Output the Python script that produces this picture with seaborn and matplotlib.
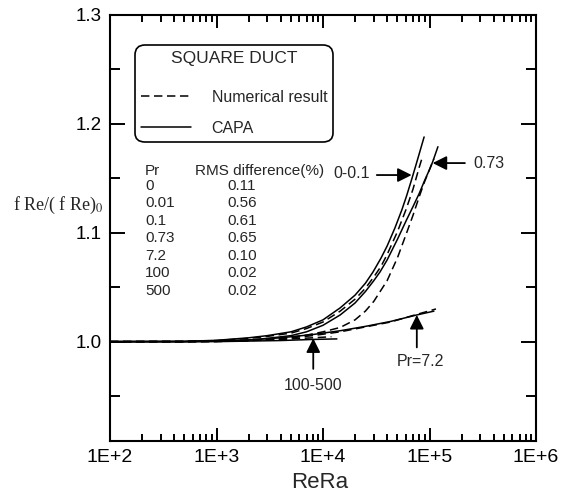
import numpy as np
import pandas as pd
import matplotlib
matplotlib.use('Agg')
import matplotlib.pyplot as plt
from matplotlib.lines import Line2D
from matplotlib.ticker import FixedLocator, FixedFormatter, NullFormatter
import seaborn as sns

# ---------------- data ----------------
# CAPA (solid) and numerical (dashed) curves, x = ReRa, y = fRe/(fRe)0
capa_pr01_x = [100, 500, 1000, 2000, 3000, 5000, 7000, 1e4, 1.45e4, 2e4, 2.5e4, 2.95e4, 3.5e4, 4e4, 4.74e4, 5.5e4, 6.1e4, 6.8e4, 7.5e4, 8.2e4, 8.9e4]
capa_pr01_y = [1.000, 1.0003, 1.0012, 1.0035, 1.0055, 1.009, 1.0135, 1.020, 1.031, 1.0427, 1.0536, 1.064, 1.0766, 1.0878, 1.1045, 1.121, 1.134, 1.149, 1.163, 1.176, 1.188]

num_pr01_x = [100, 500, 1000, 2000, 3000, 5000, 7000, 1e4, 1.45e4, 2e4, 2.5e4, 3e4, 3.5e4, 4e4, 5e4, 6e4, 7e4, 8e4, 8.6e4]
num_pr01_y = [1.000, 1.0002, 1.001, 1.003, 1.0048, 1.0078, 1.012, 1.018, 1.028, 1.039, 1.049, 1.0594, 1.069, 1.080, 1.101, 1.121, 1.140, 1.160, 1.170]

capa_pr073_x = [100, 500, 1000, 2000, 3000, 5000, 7000, 1e4, 1.45e4, 2e4, 2.5e4, 3e4, 3.43e4, 4e4, 5e4, 6.1e4, 7e4, 8e4, 9e4, 1e5, 1.07e5, 1.2e5]
capa_pr073_y = [1.000, 1.000, 1.0005, 1.0015, 1.003, 1.0055, 1.009, 1.015, 1.0245, 1.0355, 1.046, 1.056, 1.064, 1.075, 1.094, 1.112, 1.124, 1.136, 1.148, 1.158, 1.165, 1.179]

num_pr073_x = [100, 500, 1000, 2000, 3000, 5000, 7000, 1e4, 1.45e4, 2e4, 2.5e4, 3e4, 4e4, 5e4, 6e4, 7e4, 8e4, 9e4, 1e5, 1.1e5]
num_pr073_y = [1.000, 1.000, 1.0003, 1.001, 1.002, 1.004, 1.006, 1.009, 1.013, 1.020, 1.028, 1.037, 1.056, 1.077, 1.098, 1.116, 1.133, 1.147, 1.158, 1.168]

capa_pr72_x = [100, 500, 1000, 2000, 4000, 8000, 1.45e4, 2.5e4, 4.3e4, 7.6e4, 1.1e5]
capa_pr72_y = [1.000, 1.000, 1.0005, 1.0015, 1.0035, 1.0065, 1.010, 1.014, 1.0185, 1.0245, 1.028]

num_pr72_x = [100, 500, 1000, 2000, 4000, 8000, 1.45e4, 2.5e4, 4.3e4, 7.6e4, 1.15e5]
num_pr72_y = [1.000, 1.000, 1.0003, 1.001, 1.0025, 1.0055, 1.009, 1.0135, 1.018, 1.025, 1.030]

capa_pr100_x = [100, 1000, 2000, 4000, 8000, 1.35e4]
capa_pr100_y = [1.000, 1.000, 1.0005, 1.001, 1.002, 1.0025]

num_pr100_x = [100, 1000, 2000, 4000, 8000, 1.2e4]
num_pr100_y = [1.000, 1.000, 1.001, 1.002, 1.0035, 1.0045]

table_pr = ['0', '0.01', '0.1', '0.73', '7.2', '100', '500']
table_rms = ['0.11', '0.56', '0.61', '0.65', '0.10', '0.02', '0.02']

x_ticks = [1e2, 1e3, 1e4, 1e5, 1e6]
x_tick_labels = ['1E+2', '1E+3', '1E+4', '1E+5', '1E+6']
y_ticks = [1.0, 1.1, 1.2, 1.3]
y_tick_labels = ['1.0', '1.1', '1.2', '1.3']
y_minor = [0.95, 1.05, 1.15, 1.25]

# annotation arrows: (label, tail, tip)
arrow_labels = ['0-0.1', '0.73', '100-500', 'Pr=7.2']
arrow_tails = [(3.2e4, 1.153), (2.15e5, 1.164), (8.1e3, 0.975), (7.6e4, 0.9947)]
arrow_tips = [(6.8e4, 1.153), (1.07e5, 1.164), (8.1e3, 1.003), (7.6e4, 1.0245)]

# ---------------- style ----------------
sns.set_theme(style='ticks')
plt.rcParams['font.family'] = ['Liberation Sans', 'DejaVu Sans']
plt.rcParams['mathtext.fontset'] = 'stix'

W, H = 567, 496
fig = plt.figure(figsize=(W / 100, H / 100), dpi=100)
L, R, T, B = 110, 536, 15, 440.7
ax = fig.add_axes([L / W, 1 - B / H, (R - L) / W, (B - T) / H])
ax.set_xscale('log')


def pxa(px, py):
    return ((px - L) / (R - L), (B - py) / (B - T))


DASH = (0, (5.5, 3))
curves = [
    (capa_pr01_x, capa_pr01_y, '-'),
    (num_pr01_x, num_pr01_y, DASH),
    (capa_pr073_x, capa_pr073_y, '-'),
    (num_pr073_x, num_pr073_y, DASH),
    (capa_pr72_x, capa_pr72_y, '-'),
    (num_pr72_x, num_pr72_y, DASH),
    (capa_pr100_x, capa_pr100_y, '-'),
    (num_pr100_x, num_pr100_y, DASH),
]
for cx, cy, ls in curves:
    df = pd.DataFrame({'ReRa': cx, 'ratio': cy})
    sns.lineplot(data=df, x='ReRa', y='ratio', ax=ax, color='black',
                 linewidth=1.1, linestyle=ls, estimator=None, sort=False)

ax.set_xlim(1e2, 1e6)
ax.set_ylim(0.909, 1.3)
ax.set_xlabel('')
ax.set_ylabel('')

# ticks
ax.xaxis.set_major_locator(FixedLocator(x_ticks))
ax.xaxis.set_major_formatter(FixedFormatter(x_tick_labels))
minor_x = [m * 10 ** d for d in range(2, 6) for m in range(2, 10)]
ax.xaxis.set_minor_locator(FixedLocator(minor_x))
ax.xaxis.set_minor_formatter(NullFormatter())
ax.yaxis.set_major_locator(FixedLocator(y_ticks))
ax.yaxis.set_major_formatter(FixedFormatter(y_tick_labels))
ax.yaxis.set_minor_locator(FixedLocator(y_minor))
ax.yaxis.set_minor_formatter(NullFormatter())

ax.tick_params(which='both', direction='in', top=True, right=True,
               width=1.4, color='black', labelcolor='black')
ax.tick_params(axis='x', which='major', length=9.5, labelsize=14, pad=6)
ax.tick_params(axis='x', which='minor', length=5)
ax.tick_params(axis='y', which='major', length=11, labelsize=13.5, pad=6)
ax.tick_params(axis='y', which='minor', length=7)
for sp in ax.spines.values():
    sp.set_linewidth(1.5)
    sp.set_color('black')

# legend
handles = [Line2D([], [], color='black', lw=1.1, linestyle=DASH),
           Line2D([], [], color='black', lw=1.1, linestyle='-')]
x0, y1 = pxa(135, 45)
x1, y0 = pxa(333, 142)
leg = ax.legend(handles, ['Numerical result', 'CAPA'], title='SQUARE DUCT',
                loc='upper left', bbox_to_anchor=(x0, y0, x1 - x0, y1 - y0),
                mode='expand', fontsize=11.5, title_fontsize=12.5,
                handlelength=3.1, handletextpad=1.3, labelspacing=1.0,
                borderpad=0.4, borderaxespad=0, fancybox=True,
                framealpha=1, edgecolor='black', frameon=True)
leg.get_frame().set_linewidth(1.2)
leg.get_frame().set_boxstyle('round', pad=0, rounding_size=0.6)
leg._legend_box.sep = 17

# table
ax.text(*pxa(145, 175), 'Pr', transform=ax.transAxes, fontsize=11, va='baseline', ha='left')
ax.text(*pxa(195, 175), 'RMS difference(%)', transform=ax.transAxes, fontsize=11, va='baseline', ha='left')
for i, (p, r) in enumerate(zip(table_pr, table_rms)):
    yb = 190 + 17.5 * i
    ax.text(*pxa(145, yb), p, transform=ax.transAxes, fontsize=11, va='baseline', ha='left')
    ax.text(*pxa(227, yb), r, transform=ax.transAxes, fontsize=11, va='baseline', ha='left')

# arrows
for lab, tail, tip in zip(arrow_labels, arrow_tails, arrow_tips):
    ax.annotate('', xy=tip, xytext=tail, xycoords='data', textcoords='data',
                arrowprops=dict(arrowstyle='-|>', color='black', lw=1.3,
                                mutation_scale=21, shrinkA=0, shrinkB=0))
ax.text(*pxa(370, 178.5), arrow_labels[0], transform=ax.transAxes, fontsize=11.5, ha='right', va='baseline')
ax.text(*pxa(473, 168.5), arrow_labels[1], transform=ax.transAxes, fontsize=11.5, ha='left', va='baseline')
ax.text(*pxa(313, 389.5), arrow_labels[2], transform=ax.transAxes, fontsize=11.5, ha='center', va='baseline')
ax.text(*pxa(420, 366.5), arrow_labels[3], transform=ax.transAxes, fontsize=11.5, ha='center', va='baseline')

# axis labels
fig.text(13 / W, 1 - 205 / H, 'f Re/( f Re)$_0$', fontsize=13, ha='left', va='center',
         family=['Liberation Serif', 'DejaVu Serif'])
fig.text(320 / W, 1 - 488 / H, 'ReRa', fontsize=16, ha='center', va='baseline')

fig.savefig('out.png', dpi=100)
